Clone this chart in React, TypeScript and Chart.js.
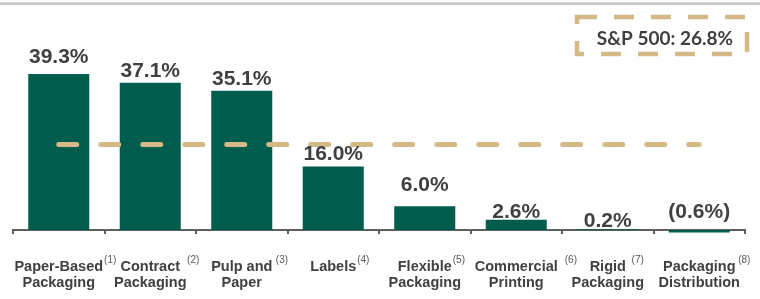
import { useEffect, useRef } from "react";
import { Chart, registerables } from "chart.js";

Chart.register(...registerables);

// ---- data ----
const categories: string[][] = [
  ["Paper-Based", "Packaging"],
  ["Contract", "Packaging"],
  ["Pulp and", "Paper"],
  ["Labels"],
  ["Flexible", "Packaging"],
  ["Commercial", "Printing"],
  ["Rigid", "Packaging"],
  ["Packaging", "Distribution"],
];
const footnotes = ["(1)", "(2)", "(3)", "(4)", "(5)", "(6)", "(7)", "(8)"];
const marginValues = [39.3, 37.1, 35.1, 16.0, 6.0, 2.6, 0.2, -0.6];
const valueLabels = ["39.3%", "37.1%", "35.1%", "16.0%", "6.0%", "2.6%", "0.2%", "(0.6%)"];
const sp500Text = "S&P 500: 26.8%";
const sp500Line = [21.55, 21.55, 21.55, 21.55, 21.55, 21.55, 21.55, 21.55];

// ---- styling ----
const GREEN = "#005c4d";
const TAN = "#d4b886";
const TEXT = "#404040";
const AXIS = "#5f5f5f";
const labelGaps = [10.7, 5.3, 5.7, 6.7, 15, 1.7, 2, 11.7];
const supGaps = [1, 7, 3.5, 1, 1, 7, 5.7, 2.7];
const TICK_FONT = "bold 14.5px 'Liberation Sans', Arial, sans-serif";

const decor = {
  id: "decor",
  beforeDraw(chart: any) {
    const ctx = chart.ctx;
    ctx.save();
    ctx.fillStyle = "#c6c6c6";
    ctx.fillRect(0, 2.3, chart.width, 2.7);
    ctx.restore();
  },
  afterDatasetsDraw(chart: any) {
    const ctx = chart.ctx;
    const meta = chart.getDatasetMeta(1);
    const yScale = chart.scales.y;
    const zero = yScale.getPixelForValue(0);
    ctx.save();
    ctx.font = "bold 21px 'Liberation Sans', Arial, sans-serif";
    ctx.fillStyle = TEXT;
    ctx.textAlign = "center";
    ctx.textBaseline = "alphabetic";
    meta.data.forEach((bar: any, i: number) => {
      const top = Math.min(bar.y, zero);
      ctx.fillText(valueLabels[i], bar.x, top - labelGaps[i]);
    });
    ctx.restore();
  },
  afterDraw(chart: any) {
    const ctx = chart.ctx;
    const xScale = chart.scales.x;
    const area = chart.chartArea;
    ctx.save();
    // footnote superscripts
    categories.forEach((lines, i) => {
      ctx.font = TICK_FONT;
      const w = ctx.measureText(lines[0]).width;
      const cx = xScale.getPixelForValue(i);
      ctx.font = "10px 'Liberation Sans', Arial, sans-serif";
      ctx.fillStyle = "#595959";
      ctx.textAlign = "left";
      ctx.textBaseline = "alphabetic";
      ctx.fillText(footnotes[i], cx + w / 2 + supGaps[i], area.bottom + 33.3);
    });
    // S&P box
    ctx.strokeStyle = TAN;
    ctx.lineWidth = 4.5;
    ctx.setLineDash([20, 17]);
    ctx.strokeRect(577, 17, 170, 37);
    ctx.setLineDash([]);
    ctx.font = "bold 19px Lato, 'Open Sans', sans-serif";
    ctx.fillStyle = TEXT;
    ctx.textAlign = "center";
    ctx.textBaseline = "alphabetic";
    ctx.fillText(sp500Text, 665, 44.5);
    ctx.restore();
  },
};

export default function App() {
  const ref = useRef<HTMLCanvasElement | null>(null);
  useEffect(() => {
    if (!ref.current) return;
    const chart = new Chart(ref.current, {
      type: "bar",
      data: {
        labels: categories,
        datasets: [
          {
            type: "line",
            data: sp500Line,
            borderColor: TAN,
            borderWidth: 5,
            borderDash: [18, 24],
            borderCapStyle: "round",
            pointRadius: 0,
            fill: false,
            order: 0,
          } as any,
          {
            type: "bar",
            data: marginValues,
            backgroundColor: GREEN,
            borderWidth: 0,
            categoryPercentage: 1,
            barPercentage: 0.667,
            clip: false,
            order: 1,
          } as any,
        ],
      },
      options: {
        responsive: false,
        animation: false,
        devicePixelRatio: 1,
        layout: { padding: { top: 31.5, left: 13, right: 15, bottom: 0 } },
        plugins: {
          legend: { display: false },
          tooltip: { enabled: false },
        },
        scales: {
          x: {
            offset: true,
            grid: {
              display: true,
              offset: true,
              drawOnChartArea: false,
              drawTicks: true,
              tickLength: 4,
              color: AXIS,
              lineWidth: 2,
            },
            border: { display: true, color: AXIS, width: 2 },
            ticks: {
              autoSkip: false,
              maxRotation: 0,
              minRotation: 0,
              padding: 24.5,
              color: TEXT,
              font: { family: "'Liberation Sans', Arial, sans-serif", size: 14.5, weight: "bold", lineHeight: 1.124 },
            },
            afterFit: (scale: any) => {
              scale.height = 69;
              scale.paddingLeft = 0;
              scale.paddingRight = 0;
            },
          },
          y: {
            display: false,
            min: 0,
            max: 50,
          },
        },
      } as any,
      plugins: [decor],
    });
    return () => chart.destroy();
  }, []);
  return (
    <div style={{ position: "absolute", left: 0, top: 0, width: 760, height: 299, background: "#fff" }}>
      <canvas ref={ref} width={760} height={299} />
    </div>
  );
}
